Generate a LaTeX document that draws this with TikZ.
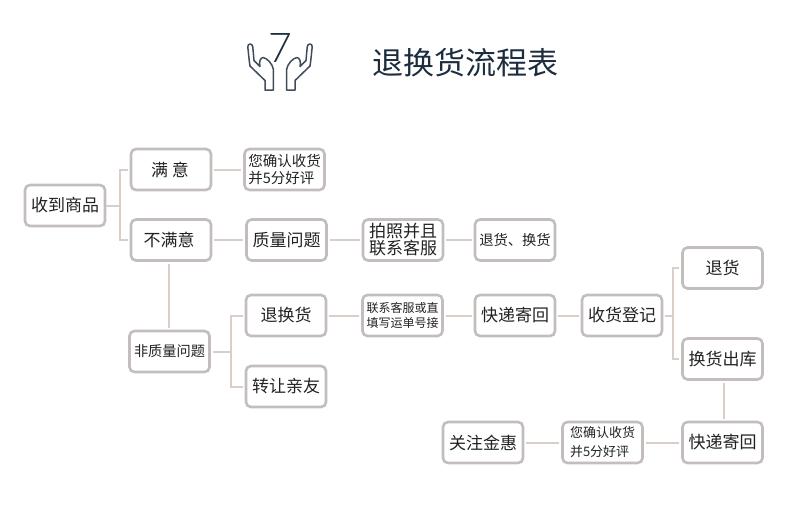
\documentclass[tikz,border=0pt]{standalone}
\usepackage{fontspec}
\setmainfont{Noto Sans CJK SC}
\newfontfamily\sevenfont{Lato Light}
\definecolor{boxline}{HTML}{C4BDBD}
\definecolor{linkline}{HTML}{D9CFC8}
\definecolor{inktext}{HTML}{222222}
\definecolor{navy}{HTML}{1D2C3E}
\newcommand{\fs}[2]{\fontsize{#1}{#2}\selectfont}
\tikzset{
  flowbox/.style={draw=boxline,line width=2.6pt,fill=white,rounded corners=5pt,minimum width=80pt,minimum height=41pt,inner sep=0pt,align=center,text=inktext,font=\fs{17}{17}},
  smalltext/.style={font=\fs{14.5}{17},align=left},
  tinytext/.style={font=\fs{12}{15}},
  link/.style={draw=linkline,line width=2pt,shorten >=2pt,shorten <=2pt},
  spine/.style={draw=linkline,line width=2pt,line cap=rect},
  handline/.style={draw=navy!85!white,line width=1.5pt,line join=round,line cap=round},
}
\begin{document}
\begin{tikzpicture}[x=1pt,y=-1pt]
\useasboundingbox (0,0) rectangle (790,517);
% heading
\node[text=navy,font=\fs{31}{31}] (title) at (465,63) {退换货流程表};
\node[text=navy,font=\sevenfont\fs{41}{41},inner sep=0pt] (seven) at (280,48) {7};
\draw[handline] (265,90) -- (265,80.5) -- (250,66) .. controls (249,60) and (248.5,53) .. (247.8,47) .. controls (247.5,43) and (252.5,43) .. (252.8,47) -- (254,60.5) -- (260,66.5) .. controls (259,62) and (260,58) .. (263,57.5) .. controls (267,58) and (272.5,64) .. (273.3,69) -- (273.3,90) -- cycle;
\draw[handline] (295,90) -- (295,80.5) -- (310,66) .. controls (311,60) and (311.5,53) .. (312.2,47) .. controls (312.5,43) and (307.5,43) .. (307.2,47) -- (306,60.5) -- (300,66.5) .. controls (301,62) and (300,58) .. (297,57.5) .. controls (293,58) and (287.5,64) .. (286.7,69) -- (286.7,90) -- cycle;
% boxes
\node[flowbox] (receive) at (65,205.5) {收到商品};
\node[flowbox] (happy) at (171,169.5) {\hspace{-2pt}满 意};
\node[flowbox,smalltext] (praise) at (284.5,169.5) {您确认收货\\并5分好评};
\node[flowbox] (unhappy) at (171,240) {\hspace{-4pt}不满意};
\node[flowbox] (quality) at (286.5,240) {质量问题};
\node[flowbox] (photo) at (403,240) {拍照并且\\联系客服};
\node[flowbox,font=\fs{14.3}{15}] (refund) at (515,240) {退货、换货};
\node[flowbox,font=\fs{14.2}{17}] (nonquality) at (169.5,351.5) {非质量问题};
\node[flowbox] (exchange) at (286,315.5) {退换货};
\node[flowbox] (transfer) at (286,386.5) {转让亲友};
\node[flowbox,tinytext] (contact) at (402.5,315.5) {联系客服或直\\填写运单号接};
\node[flowbox] (courier) at (515,315.5) {快递寄回};
\node[flowbox] (register) at (622,315.5) {收货登记};
\node[flowbox] (goback) at (722.5,268) {退货};
\node[flowbox] (stockout) at (722.5,359) {换货出库};
\node[flowbox] (courierb) at (722.5,442.5) {快递寄回};
\node[flowbox,font=\fs{13}{19},align=left] (praiseb) at (602.5,442.5) {您确认收货\\并5分好评};
\node[flowbox] (follow) at (483,442.5) {关注金惠};
% junctions
\coordinate (ja) at (120,205.5);
\coordinate (jb) at (231,351.5);
\coordinate (jc) at (673,315.5);
% connectors
\draw[link,shorten <=0pt,shorten >=0pt] (receive.east) -- (ja);
\draw[link,shorten <=0pt] (happy.west -| ja) -- (happy.west);
\draw[link,shorten <=0pt] (unhappy.west -| ja) -- (unhappy.west);
\draw[spine] (happy.west -| ja) -- (unhappy.west -| ja);
\draw[link] (happy) -- (praise);
\draw[link] (unhappy) -- (quality);
\draw[link] (quality) -- (photo);
\draw[link] (photo) -- (refund);
\draw[link] ([xshift=-2pt]unhappy.south) -- ([xshift=-0.5pt]nonquality.north);
\draw[link,shorten >=0pt] (nonquality.east) -- (jb);
\draw[link,shorten <=0pt] (exchange.west -| jb) -- (exchange.west);
\draw[link,shorten <=0pt] (transfer.west -| jb) -- (transfer.west);
\draw[spine] (exchange.west -| jb) -- (transfer.west -| jb);
\draw[link] (exchange) -- (contact);
\draw[link] (contact) -- (courier);
\draw[link] (courier) -- (register);
\draw[link,shorten >=0pt] (register.east) -- (jc);
\draw[link,shorten <=0pt] (goback.west -| jc) -- (goback.west);
\draw[link,shorten <=0pt] (stockout.west -| jc) -- (stockout.west);
\draw[spine] (goback.west -| jc) -- (stockout.west -| jc);
\draw[link] ([xshift=1.5pt]stockout.south) -- ([xshift=1.5pt]courierb.north);
\draw[link] (courierb) -- (praiseb);
\draw[link] (praiseb) -- (follow);
\end{tikzpicture}
\end{document}
